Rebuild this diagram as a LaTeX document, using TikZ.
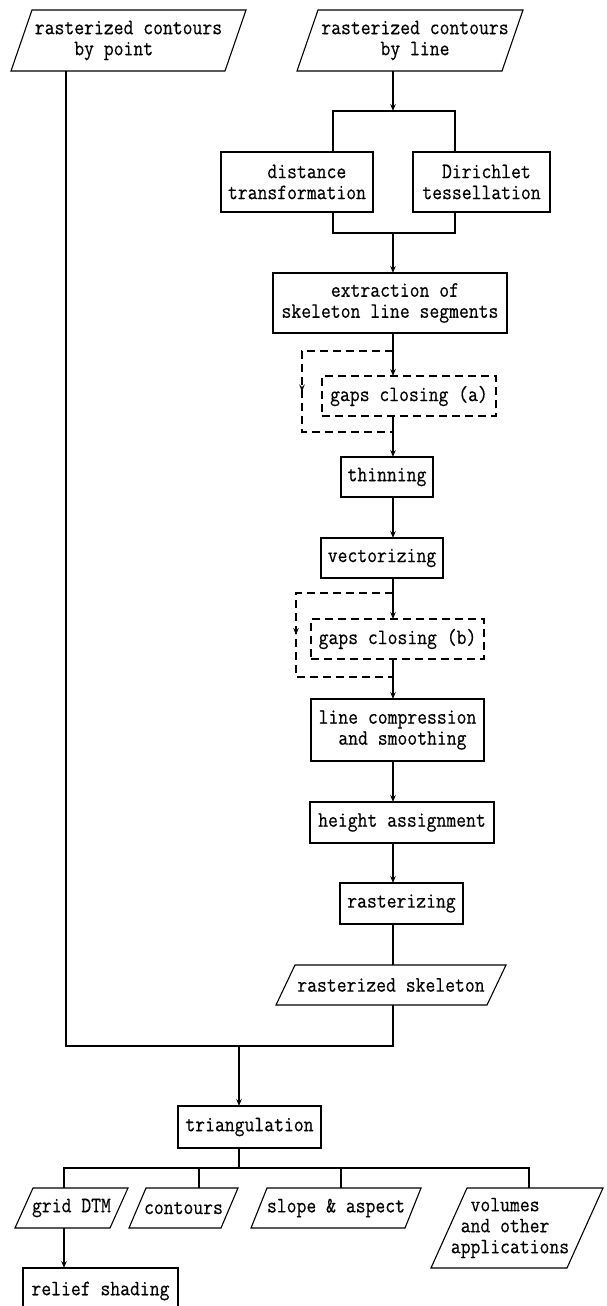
\documentclass[tikz,border=0pt]{standalone}
\usepackage{fontspec}
\setmonofont[FakeStretch=0.87,FakeBold=0.4]{Latin Modern Mono}
\usetikzlibrary{arrows.meta,decorations.markings}
\newcommand\pgram[2]{\draw[ln] ([xshift=#2pt]#1.north west) -- (#1.north east) -- ([xshift=-#2pt]#1.south east) -- (#1.south west) -- cycle;}
\begin{document}
\begin{tikzpicture}[x=1pt,y=-1pt,
  ln/.style={line width=1.1pt},
  arr/.style={ln,-{Stealth[length=7pt,width=5.5pt,inset=2.5pt]}},
  txt/.style={font=\ttfamily\fontsize{22}{21}\selectfont, inner sep=0pt, outer sep=0pt, align=center},
  box/.style={txt,draw,ln},
  dbox/.style={box,dash pattern=on 8pt off 5pt},
  para/.style={txt},
  dloop/.style={ln,dash pattern=on 8pt off 5pt,postaction={decorate},
    decoration={markings,mark=at position 0.5 with {\arrow[solid]{Stealth[length=7pt,width=5.5pt,inset=2.5pt]}}}}
]
\useasboundingbox (0,0) rectangle (606,1306);
\clip (0,0) rectangle (606,1306);

% axis and junction coordinates
\coordinate (ax) at (393,0);
\coordinate (sm) at (393,111);
\coordinate (s1) at (333,111);
\coordinate (s2) at (455,111);
\coordinate (mm) at (393,233);
\coordinate (m1) at (333,233);
\coordinate (m2) at (455,233);
\coordinate (la1) at (393,351);
\coordinate (la2) at (302,351);
\coordinate (la3) at (302,432);
\coordinate (la4) at (393,432);
\coordinate (lb1) at (393,593);
\coordinate (lb2) at (296,593);
\coordinate (lb3) at (296,677);
\coordinate (lb4) at (393,677);
\coordinate (j1) at (66,1046);
\coordinate (j2) at (393,1046);
\coordinate (jt) at (239,1046);
\coordinate (bt) at (239,1168);
\coordinate (c1) at (64,1168);
\coordinate (c2) at (199,1168);
\coordinate (c3) at (341,1168);
\coordinate (c4) at (529,1168);

% nodes
\node[para, minimum width=235pt, minimum height=61pt, align=left] (p1) at (128.5,40.5) {rasterized contours\\\phantom{xxxx}by point};
\pgram{p1}{21}
\node[para, minimum width=226pt, minimum height=61pt] (p2) at (410,40.5) {\hspace*{10pt}rasterized contours\\\hspace*{10pt}by line};
\pgram{p2}{21}
\node[box, minimum width=152pt, minimum height=60pt, align=left] (b1) at (297,182) {\phantom{xxxx}distance\\transformation};
\node[box, minimum width=137pt, minimum height=60pt, align=left] (b2) at (481.5,182) {\phantom{xx}Dirichlet\\tessellation};
\node[box, minimum width=234pt, minimum height=60pt, align=left] (b3) at (390,303) {\phantom{xxxxx}extraction of\\skeleton line segments};
\node[dbox, minimum width=174pt, minimum height=40pt] (ga) at (409,396) {gaps closing (a)};
\node[box, minimum width=92pt, minimum height=40pt] (th) at (387,477) {thinning};
\node[box, minimum width=122pt, minimum height=40pt] (ve) at (382,558) {vectorizing};
\node[dbox, minimum width=173pt, minimum height=40pt] (gb) at (397.5,639) {gaps closing (b)};
\node[box, minimum width=173pt, minimum height=62pt, align=left] (lc) at (397.5,730) {line compression\\\phantom{xx}and smoothing};
\node[box, minimum width=184pt, minimum height=41pt] (ha) at (402,822.5) {height assignment};
\node[box, minimum width=123pt, minimum height=41pt] (ra) at (401.5,903.5) {rasterizing};
\node[para, minimum width=230pt, minimum height=40pt] (rs) at (391,985) {rasterized skeleton};
\pgram{rs}{19}
\node[box, minimum width=143pt, minimum height=42pt] (tr) at (249.5,1127) {triangulation};
\node[para, minimum width=113pt, minimum height=40pt] (gd) at (71.5,1208) {grid DTM};
\pgram{gd}{18}
\node[para, minimum width=109pt, minimum height=40pt] (ct) at (183.5,1208) {contours};
\pgram{ct}{17}
\node[para, minimum width=170pt, minimum height=40pt] (sa) at (336,1208) {slope \& aspect};
\pgram{sa}{16}
\node[para, minimum width=172pt, minimum height=80pt, align=left] (vo) at (517,1228) {\phantom{xx}volumes\\\phantom{x}and other\\applications\hspace*{14pt}};
\pgram{vo}{36}
\node[box, minimum width=155pt, minimum height=46pt] (rl) at (100.5,1291) {relief shading};

% connectors
\draw[arr] (p2.south -| sm) -- (sm);
\draw[ln] (b1.north -| s1) -- (s1) -- (s2) -- (b2.north -| s2);
\draw[ln] (b1.south -| m1) -- (m1) -- (m2) -- (b2.south -| m2);
\draw[arr] (mm) -- (b3.north -| mm);
\draw[arr] (b3.south -| ax) -- (ga.north -| ax);
\draw[dloop] (la1) -- (la2) -- (la3) -- (la4);
\draw[arr] (ga.south -| ax) -- (th.north -| ax);
\draw[arr] (th.south -| ax) -- (ve.north -| ax);
\draw[arr] (ve.south -| ax) -- (gb.north -| ax);
\draw[dloop] (lb1) -- (lb2) -- (lb3) -- (lb4);
\draw[arr] (gb.south -| ax) -- (lc.north -| ax);
\draw[arr] (lc.south -| ax) -- (ha.north -| ax);
\draw[arr] (ha.south -| ax) -- (ra.north -| ax);
\draw[ln] (ra.south -| ax) -- (rs.north -| ax);
\draw[ln] (rs.south -| ax) -- (j2) -- (j1) -- (p1.south -| j1);
\draw[arr] (jt) -- (tr.north -| jt);
\draw[ln] (tr.south -| jt) -- (bt);
\draw[ln] (gd.north -| c1) -- (c1) -- (c4) -- (vo.north -| c4);
\draw[ln] (ct.north -| c2) -- (c2);
\draw[ln] (sa.north -| c3) -- (c3);
\draw[arr] (gd.south -| c1) -- (rl.north -| c1);
\end{tikzpicture}
\end{document}
